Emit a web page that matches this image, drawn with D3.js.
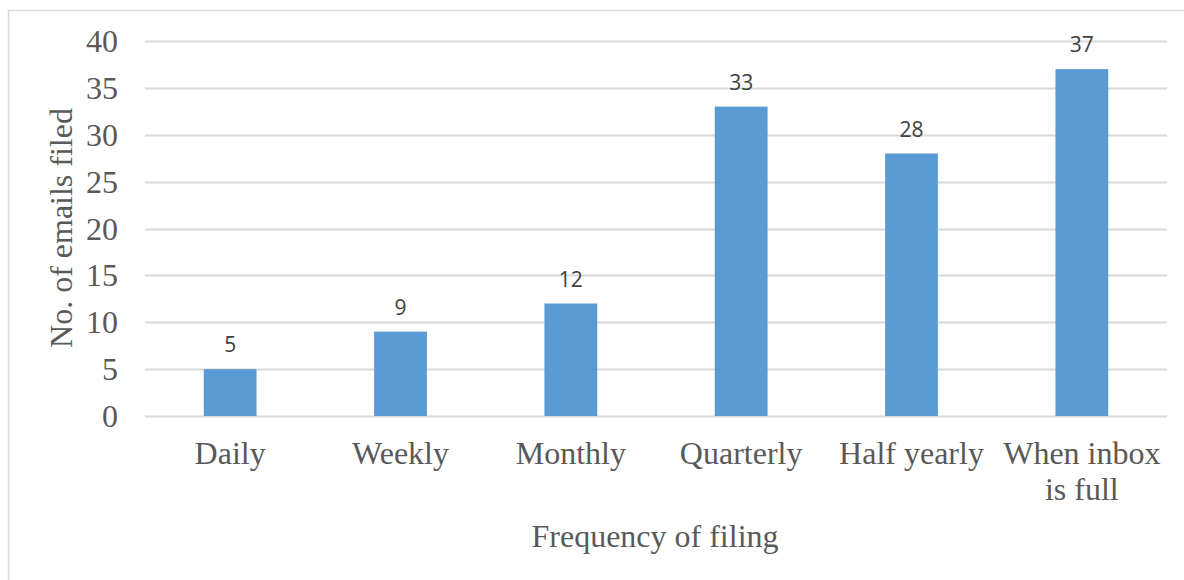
<!DOCTYPE html>
<html>
<head>
<meta charset="utf-8">
<script src="https://cdn.jsdelivr.net/npm/d3@7"></script>
<style>
  body { margin: 0; background: #fff; }
  svg { display: block; }
</style>
</head>
<body>
<svg id="chart" width="1184" height="580"></svg>
<script>
// chart data
const categories = ['Daily', 'Weekly', 'Monthly', 'Quarterly', 'Half yearly', 'When inbox|is full'];
const counts = [5, 9, 12, 33, 28, 37];
const yTicks = [0, 5, 10, 15, 20, 25, 30, 35, 40];

const svg = d3.select('#chart');
const margin = { left: 145, right: 17, top: 41, bottom: 164 };
const width = 1184, height = 580;

// outer chart border (light gray)
svg.append('rect')
    .attr('x', 8.5).attr('y', 10.5)
    .attr('width', 1200).attr('height', 600)
    .attr('fill', 'none')
    .attr('stroke', '#d9d9d9')
    .attr('stroke-width', 1.5);

const x = d3.scaleBand()
    .domain(categories)
    .range([margin.left, width - margin.right])
    .padding(0);

const y = d3.scaleLinear()
    .domain([0, 40])
    .range([height - margin.bottom, margin.top]);

// gridlines
svg.append('g')
    .selectAll('line')
    .data(yTicks)
    .enter()
    .append('line')
    .attr('x1', margin.left)
    .attr('x2', width - margin.right)
    .attr('y1', d => Math.round(y(d)) + 0.5)
    .attr('y2', d => Math.round(y(d)) + 0.5)
    .attr('stroke', '#d9d9d9')
    .attr('stroke-width', 2);

// y tick labels
svg.append('g')
    .selectAll('text')
    .data(yTicks)
    .enter()
    .append('text')
    .attr('x', 118)
    .attr('y', d => y(d) + 11)
    .attr('text-anchor', 'end')
    .attr('font-family', 'Liberation Serif, serif')
    .attr('font-size', 32)
    .attr('fill', '#595959')
    .text(d => d);

// bars
const barW = x.bandwidth() * 0.31;
svg.append('g')
    .selectAll('rect')
    .data(counts)
    .enter()
    .append('rect')
    .attr('x', (d, i) => x(categories[i]) + (x.bandwidth() - barW) / 2)
    .attr('y', d => y(d))
    .attr('width', barW)
    .attr('height', d => y(0) - y(d))
    .attr('fill', '#5b9bd5');

// data labels
svg.append('g')
    .selectAll('text')
    .data(counts)
    .enter()
    .append('text')
    .attr('x', (d, i) => x(categories[i]) + x.bandwidth() / 2)
    .attr('y', d => y(d) - 17)
    .attr('text-anchor', 'middle')
    .attr('font-family', 'Open Sans, sans-serif')
    .attr('font-size', 21)
    .attr('fill', '#404040')
    .text(d => d);

// category labels (| marks a line break)
const catLabels = svg.append('g')
    .selectAll('text')
    .data(categories)
    .enter()
    .append('text')
    .attr('x', d => x(d) + x.bandwidth() / 2)
    .attr('y', 464)
    .attr('text-anchor', 'middle')
    .attr('font-family', 'Liberation Serif, serif')
    .attr('font-size', 32)
    .attr('fill', '#595959');

catLabels.each(function(d) {
    const parts = d.split('|');
    const t = d3.select(this);
    parts.forEach((p, k) => {
        t.append('tspan')
            .attr('x', x(d) + x.bandwidth() / 2)
            .attr('dy', k === 0 ? 0 : 36)
            .text(p);
    });
});

// axis titles
svg.append('text')
    .attr('transform', 'translate(72,228) rotate(-90)')
    .attr('text-anchor', 'middle')
    .attr('font-family', 'Liberation Serif, serif')
    .attr('font-size', 32)
    .attr('fill', '#595959')
    .text('No. of emails filed');

svg.append('text')
    .attr('x', 655)
    .attr('y', 547)
    .attr('text-anchor', 'middle')
    .attr('font-family', 'Liberation Serif, serif')
    .attr('font-size', 32)
    .attr('fill', '#595959')
    .text('Frequency of filing');
</script>
</body>
</html>
